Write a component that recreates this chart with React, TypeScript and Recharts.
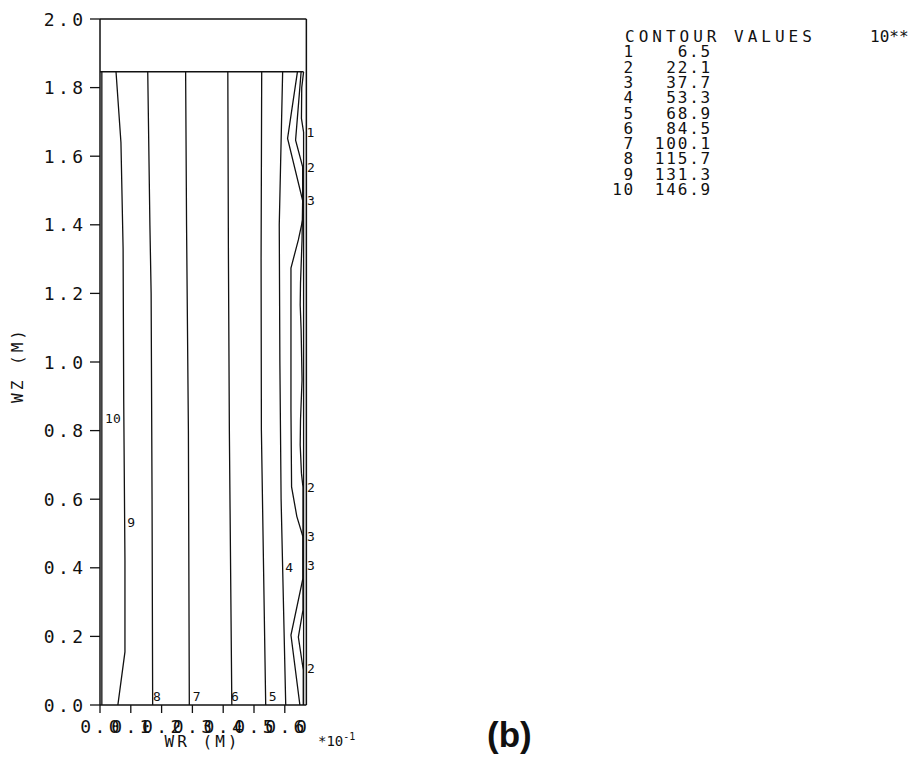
import React from 'react';
import { ComposedChart, Line, XAxis, YAxis, ReferenceLine, Scatter } from 'recharts';

// ---------- axis ticks ----------
const X_TICKS = [0, 0.1, 0.2, 0.3, 0.4, 0.5, 0.6, 0.7];
const X_TICK_LABELS = ['0.0', '0.1', '0.2', '0.3', '0.4', '0.5', '0.6', '0.7'];
const X_MINOR_TICKS = [0.02, 0.04, 0.06, 0.08, 0.12, 0.14, 0.16, 0.18, 0.22, 0.24, 0.26, 0.28, 0.32, 0.34, 0.36, 0.38, 0.42, 0.44, 0.46, 0.48, 0.52, 0.54, 0.56, 0.58, 0.62, 0.64, 0.66];
const Y_TICKS = [0, 0.2, 0.4, 0.6, 0.8, 1.0, 1.2, 1.4, 1.6, 1.8, 2.0];
const Y_TICK_LABELS = ['0.0', '0.2', '0.4', '0.6', '0.8', '1.0', '1.2', '1.4', '1.6', '1.8', '2.0'];
const Y_MINOR_TICKS = [0.04, 0.08, 0.12, 0.16, 0.24, 0.28, 0.32, 0.36, 0.44, 0.48, 0.52, 0.56, 0.64, 0.68, 0.72, 0.76, 0.84, 0.88, 0.92, 0.96, 1.04, 1.08, 1.12, 1.16, 1.24, 1.28, 1.32, 1.36, 1.44, 1.48, 1.52, 1.56, 1.64, 1.68, 1.72, 1.76, 1.84, 1.88, 1.92, 1.96];

// ---------- frame / region ----------
const FRAME_RIGHT = 0.67;
const FRAME_TOP = 2.0;
const REGION_TOP = 1.846;
const REGION_RIGHT = 0.661;

// ---------- contour lines (WR x10^-1 m, WZ m) ----------
const CONTOUR_1 = [
  { x: 0.661, y: 1.846 }, { x: 0.655, y: 1.8 }, { x: 0.654, y: 1.71 }, { x: 0.661, y: 1.67 },
  { x: 0.661, y: 1.0 }, { x: 0.661, y: 0 },
];
const CONTOUR_2 = [
  { x: 0.653, y: 1.846 }, { x: 0.635, y: 1.647 }, { x: 0.658, y: 1.569 }, { x: 0.658, y: 1.472 },
  { x: 0.656, y: 1.356 }, { x: 0.651, y: 1.23 }, { x: 0.65, y: 1.166 }, { x: 0.653, y: 1.093 },
  { x: 0.656, y: 0.948 }, { x: 0.651, y: 0.831 }, { x: 0.65, y: 0.758 }, { x: 0.654, y: 0.676 },
  { x: 0.659, y: 0.636 }, { x: 0.659, y: 0.423 }, { x: 0.659, y: 0.277 }, { x: 0.644, y: 0.198 },
  { x: 0.66, y: 0.102 }, { x: 0.66, y: 0 },
];
const CONTOUR_3 = [
  { x: 0.641, y: 1.846 }, { x: 0.609, y: 1.652 }, { x: 0.659, y: 1.467 }, { x: 0.658, y: 1.414 },
  { x: 0.644, y: 1.356 }, { x: 0.62, y: 1.274 }, { x: 0.62, y: 0.86 }, { x: 0.622, y: 0.636 },
  { x: 0.639, y: 0.55 }, { x: 0.659, y: 0.49 }, { x: 0.659, y: 0.423 }, { x: 0.659, y: 0.37 },
  { x: 0.62, y: 0.204 }, { x: 0.649, y: 0 },
];
const CONTOUR_4 = [
  { x: 0.603, y: 0 }, { x: 0.588, y: 0.6 }, { x: 0.584, y: 1.0 }, { x: 0.582, y: 1.4 }, { x: 0.593, y: 1.846 },
];
const CONTOUR_5 = [
  { x: 0.538, y: 0 }, { x: 0.524, y: 0.8 }, { x: 0.523, y: 1.3 }, { x: 0.525, y: 1.846 },
];
const CONTOUR_6 = [
  { x: 0.428, y: 0 }, { x: 0.42, y: 0.8 }, { x: 0.417, y: 1.3 }, { x: 0.415, y: 1.846 },
];
const CONTOUR_7 = [
  { x: 0.29, y: 0 }, { x: 0.287, y: 0.8 }, { x: 0.281, y: 1.4 }, { x: 0.278, y: 1.846 },
];
const CONTOUR_8 = [
  { x: 0.171, y: 0 }, { x: 0.169, y: 0.6 }, { x: 0.166, y: 1.2 }, { x: 0.162, y: 1.4 }, { x: 0.155, y: 1.846 },
];
const CONTOUR_9 = [
  { x: 0.058, y: 0 }, { x: 0.081, y: 0.155 }, { x: 0.081, y: 0.42 }, { x: 0.077, y: 0.89 },
  { x: 0.075, y: 1.33 }, { x: 0.068, y: 1.64 }, { x: 0.052, y: 1.846 },
];
const CONTOUR_10 = [
  { x: 0.006, y: 0 }, { x: 0.006, y: 1.846 },
];
const CONTOURS = [CONTOUR_1, CONTOUR_2, CONTOUR_3, CONTOUR_4, CONTOUR_5, CONTOUR_6, CONTOUR_7, CONTOUR_8, CONTOUR_9, CONTOUR_10];

const CONTOUR_LABELS = [
  { x: 0.042, y: 0.837, t: '10' }, { x: 0.101, y: 0.534, t: '9' },
  { x: 0.185, y: 0.026, t: '8' }, { x: 0.314, y: 0.026, t: '7' },
  { x: 0.438, y: 0.026, t: '6' }, { x: 0.561, y: 0.026, t: '5' },
  { x: 0.614, y: 0.402, t: '4' },
  { x: 0.683, y: 1.671, t: '1' }, { x: 0.685, y: 1.569, t: '2' }, { x: 0.685, y: 1.472, t: '3' },
  { x: 0.685, y: 0.636, t: '2' }, { x: 0.685, y: 0.493, t: '3' }, { x: 0.685, y: 0.408, t: '3' },
  { x: 0.685, y: 0.108, t: '2' },
];

// ---------- legend ----------
const LEVEL_IDS = ['1', '2', '3', '4', '5', '6', '7', '8', '9', '10'];
const LEVEL_VALUES = ['6.5', '22.1', '37.7', '53.3', '68.9', '84.5', '100.1', '115.7', '131.3', '146.9'];

const INK = '#111';
const MONO = '"DejaVu Sans Mono", "Liberation Mono", monospace';

const YTick = (props: any) => {
  const { x, y, index } = props;
  return (
    <g>
      <line x1={x - 10} x2={x} y1={y} y2={y} stroke={INK} strokeWidth={1.3} />
      <text x={x - 13.5} y={y} dy={6.5} textAnchor="end" fontFamily={MONO} fontSize={18}
        letterSpacing={3.4} fill={INK}>{Y_TICK_LABELS[index]}</text>
    </g>
  );
};

const XTick = (props: any) => {
  const { x, y, index, payload } = props;
  const inside = payload.value <= FRAME_RIGHT;
  const label = X_TICK_LABELS[index] || '';
  return (
    <g>
      {inside && <line x1={x} x2={x} y1={y} y2={y + 8} stroke={INK} strokeWidth={1.3} />}
      {inside ? (
        <text x={x + 1.7} y={y} dy={28} textAnchor="middle" fontFamily={MONO} fontSize={18}
          letterSpacing={3.4} fill={INK}>{label}</text>
      ) : (
        // beyond the frame only the leading character of the label shows in the original
        <text x={x - 19.6} y={y} dy={28} textAnchor="start" fontFamily={MONO} fontSize={18}
          letterSpacing={3.4} fill={INK}>{label.slice(0, 1)}</text>
      )}
    </g>
  );
};

const LabelShape = (props: any) => {
  const { cx, cy, payload } = props;
  return (
    <text x={cx} y={cy} dy={4.7} textAnchor="middle" fontFamily={MONO} fontSize={13} fill={INK}>
      {payload.t}
    </text>
  );
};

export default function App() {
  return (
    <div style={{ position: 'relative', width: 915, height: 749, overflow: 'hidden', background: '#fff' }}>
      <ComposedChart width={907} height={749} margin={{ top: 11, right: 599.4, bottom: 22, left: 32 }}>
        <XAxis xAxisId={0} dataKey="x" type="number" domain={[0, 0.7]} allowDataOverflow ticks={X_TICKS}
          interval={0} axisLine={false} tickLine={false} tickSize={0} tickMargin={0} tick={<XTick />} height={30} />
        <XAxis xAxisId="minor" dataKey="x" type="number" domain={[0, 0.7]} allowDataOverflow ticks={X_MINOR_TICKS}
          interval={0} axisLine={false} tick={false} tickSize={4} tickLine={{ stroke: INK, strokeWidth: 1.1 }} height={0} />
        <YAxis yAxisId={0} type="number" domain={[0, 2]} allowDataOverflow ticks={Y_TICKS} interval={0}
          axisLine={{ stroke: INK, strokeWidth: 1.5 }} tickLine={false} tickSize={0} tickMargin={0}
          tick={<YTick />} width={60} />
        <YAxis yAxisId="minor" type="number" domain={[0, 2]} allowDataOverflow ticks={Y_MINOR_TICKS} interval={0}
          axisLine={false} tick={false} tickSize={5} tickLine={{ stroke: INK, strokeWidth: 1.1 }} width={0} />

        <ReferenceLine segment={[{ x: 0, y: FRAME_TOP }, { x: FRAME_RIGHT, y: FRAME_TOP }]} stroke={INK} strokeWidth={1.5} />
        <ReferenceLine segment={[{ x: FRAME_RIGHT, y: 0 }, { x: FRAME_RIGHT, y: FRAME_TOP }]} stroke={INK} strokeWidth={1.5} />
        <ReferenceLine segment={[{ x: 0, y: 0 }, { x: FRAME_RIGHT, y: 0 }]} stroke={INK} strokeWidth={1.5} />
        <ReferenceLine segment={[{ x: 0, y: REGION_TOP }, { x: REGION_RIGHT, y: REGION_TOP }]} stroke={INK} strokeWidth={1.5} />

        {CONTOURS.map((c, i) => (
          <Line key={i} data={c} dataKey="y" type="linear" stroke={INK} strokeWidth={1.3}
            dot={false} activeDot={false} isAnimationActive={false} />
        ))}
        <Scatter data={CONTOUR_LABELS} dataKey="y" shape={<LabelShape />} isAnimationActive={false} />
      </ComposedChart>

      <svg width={915} height={749} style={{ position: 'absolute', left: 0, top: 0, pointerEvents: 'none' }}>
        <text x={194.5} y={739} textAnchor="middle" fontFamily={MONO} fontSize={16} letterSpacing={3} fill={INK}>WR (M)</text>
        <text x={310} y={738} fontFamily={MONO} fontSize={14} fill={INK}>
          *10<tspan dy={-6} fontSize={10}>-1</tspan>
        </text>
        <text x={0} y={0} transform="translate(15, 357) rotate(-90)" textAnchor="middle" fontFamily={MONO}
          fontSize={16} letterSpacing={3} fill={INK}>WZ (M)</text>
        <text x={479} y={739} fontFamily='"Liberation Sans", Arial, sans-serif' fontWeight="bold" fontSize={35} fill={INK}>(b)</text>

        <text x={617} y={34} fontFamily={MONO} fontSize={16} letterSpacing={4} fill={INK}>CONTOUR VALUES</text>
        <text x={862} y={34} fontFamily={MONO} fontSize={16} letterSpacing={0} fill={INK}>10** 1</text>
        {LEVEL_IDS.map((id, i) => (
          <g key={id}>
            <text x={627} y={49.3 + i * 15.3} textAnchor="end" fontFamily={MONO} fontSize={16} letterSpacing={1.8} fill={INK}>{id}</text>
            <text x={704} y={49.3 + i * 15.3} textAnchor="end" fontFamily={MONO} fontSize={16} letterSpacing={1.8} fill={INK}>{LEVEL_VALUES[i]}</text>
          </g>
        ))}
      </svg>
    </div>
  );
}
